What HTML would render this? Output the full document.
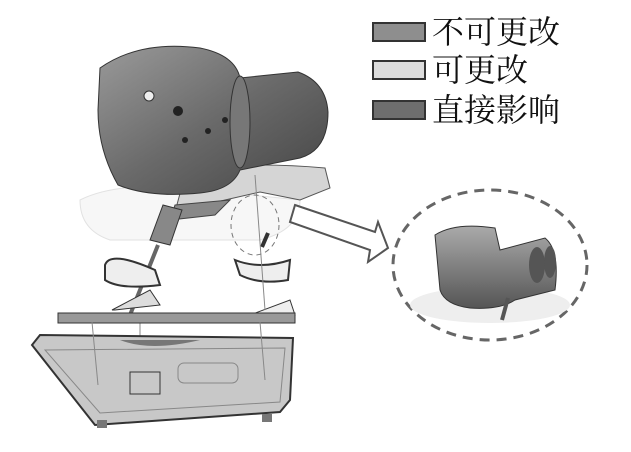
<!DOCTYPE html>
<html><head><meta charset="utf-8"><style>
html,body{margin:0;padding:0;background:#fff;width:631px;height:452px;overflow:hidden}
.lg{position:absolute;font-family:"Liberation Serif","Noto Serif CJK SC",serif;font-size:32px;color:#111;line-height:1}
.bx{position:absolute;width:54px;height:20px;border:2px solid #333;box-sizing:border-box}
</style></head><body>
<div class="bx" style="left:372px;top:22px;background:#8e8e8e"></div>
<div class="lg" style="left:432px;top:16px">不可更改</div>
<div class="bx" style="left:372px;top:60px;background:#dcdcdc"></div>
<div class="lg" style="left:432px;top:54px">可更改</div>
<div class="bx" style="left:372px;top:100px;background:#6e6e6e"></div>
<div class="lg" style="left:432px;top:94px">直接影响</div>
<svg width="631" height="452" style="position:absolute;left:0;top:0">
<defs>
<linearGradient id="g1" x1="0" y1="0" x2="1" y2="1"><stop offset="0" stop-color="#9a9a9a"/><stop offset="0.5" stop-color="#6a6a6a"/><stop offset="1" stop-color="#444"/></linearGradient>
<linearGradient id="g2" x1="0" y1="0" x2="0" y2="1"><stop offset="0" stop-color="#aaa"/><stop offset="1" stop-color="#555"/></linearGradient>
</defs>
<path d="M80,200 Q120,180 200,190 L300,200 Q300,230 260,240 L110,240 Q80,230 80,200Z" fill="#f7f7f7" stroke="#e2e2e2"/>
<path d="M185,175 L195,168 Q260,162 325,168 L330,188 L300,200 L260,192 L225,200 L175,212Z" fill="#d5d5d5" stroke="#555"/>
<path d="M175,205 L230,200 L215,215 L170,220Z" fill="#888" stroke="#444"/>
<path d="M100,68 Q140,40 200,48 Q235,55 240,78 L298,72 Q326,82 328,112 Q328,150 300,158 L240,170 Q232,190 200,193 Q150,198 118,185 Q98,150 98,110Z" fill="url(#g1)" stroke="#333"/>
<ellipse cx="240" cy="122" rx="10" ry="46" fill="#777" stroke="#333"/>
<circle cx="149" cy="96" r="5" fill="#eee" stroke="#333"/>
<circle cx="178" cy="111" r="5" fill="#222"/>
<circle cx="208" cy="131" r="3" fill="#222"/><circle cx="185" cy="140" r="3" fill="#222"/><circle cx="225" cy="120" r="3" fill="#222"/>
<path d="M163,205 L182,210 L170,245 L150,240Z" fill="#888" stroke="#333"/>
<line x1="158" y1="245" x2="130" y2="315" stroke="#666" stroke-width="4"/>
<path d="M105,265 Q110,250 155,270 L160,285 Q120,290 105,280Z" fill="#eee" stroke="#333" stroke-width="2"/>
<path d="M112,310 L150,290 L160,305 L115,310Z" fill="#ddd" stroke="#333"/>
<path d="M235,260 Q260,270 290,260 L288,280 Q260,285 240,275Z" fill="#eee" stroke="#333" stroke-width="2"/>
<path d="M250,315 L290,300 L295,315 L255,318Z" fill="#eee" stroke="#333"/>
<line x1="268" y1="233" x2="262" y2="247" stroke="#333" stroke-width="4"/>
<line x1="255" y1="175" x2="265" y2="310" stroke="#888"/>
<line x1="140" y1="315" x2="140" y2="340" stroke="#888"/>
<ellipse cx="255" cy="225" rx="24" ry="30" fill="none" stroke="#777" stroke-dasharray="5,4"/>
<rect x="58" y="313" width="237" height="10" fill="#999" stroke="#333"/>
<path d="M32,345 L40,335 L293,338 L290,400 L280,412 L95,425 Z" fill="#c8c8c8" stroke="#333" stroke-width="2"/>
<path d="M45,350 L285,348 L280,402 L100,413Z" fill="none" stroke="#888"/>
<rect x="130" y="372" width="30" height="22" fill="none" stroke="#333"/>
<rect x="178" y="363" width="60" height="20" rx="6" fill="none" stroke="#888"/>
<path d="M120,340 Q150,352 200,340" fill="#777"/>
<line x1="92" y1="322" x2="98" y2="385" stroke="#888"/>
<line x1="260" y1="322" x2="265" y2="380" stroke="#888"/>
<rect x="97" y="420" width="10" height="8" fill="#777"/><rect x="262" y="414" width="10" height="8" fill="#777"/>
<path d="M295,205 L375,232 L378,222 L388,248 L368,262 L370,250 L290,222Z" fill="#fff" stroke="#555" stroke-width="2"/>
<ellipse cx="490" cy="265" rx="97" ry="75" fill="none" stroke="#666" stroke-width="3" stroke-dasharray="10,7"/>
<ellipse cx="490" cy="305" rx="80" ry="18" fill="#eee"/>
<path d="M435,235 Q455,222 495,228 L500,250 L545,238 Q560,250 555,290 L515,300 Q500,310 470,308 Q445,305 440,290Z" fill="url(#g2)" stroke="#333"/>
<ellipse cx="537" cy="265" rx="8" ry="18" fill="#555"/><ellipse cx="550" cy="262" rx="6" ry="16" fill="#555"/>
<line x1="508" y1="298" x2="502" y2="320" stroke="#555" stroke-width="4"/>
</svg>
</body></html>
